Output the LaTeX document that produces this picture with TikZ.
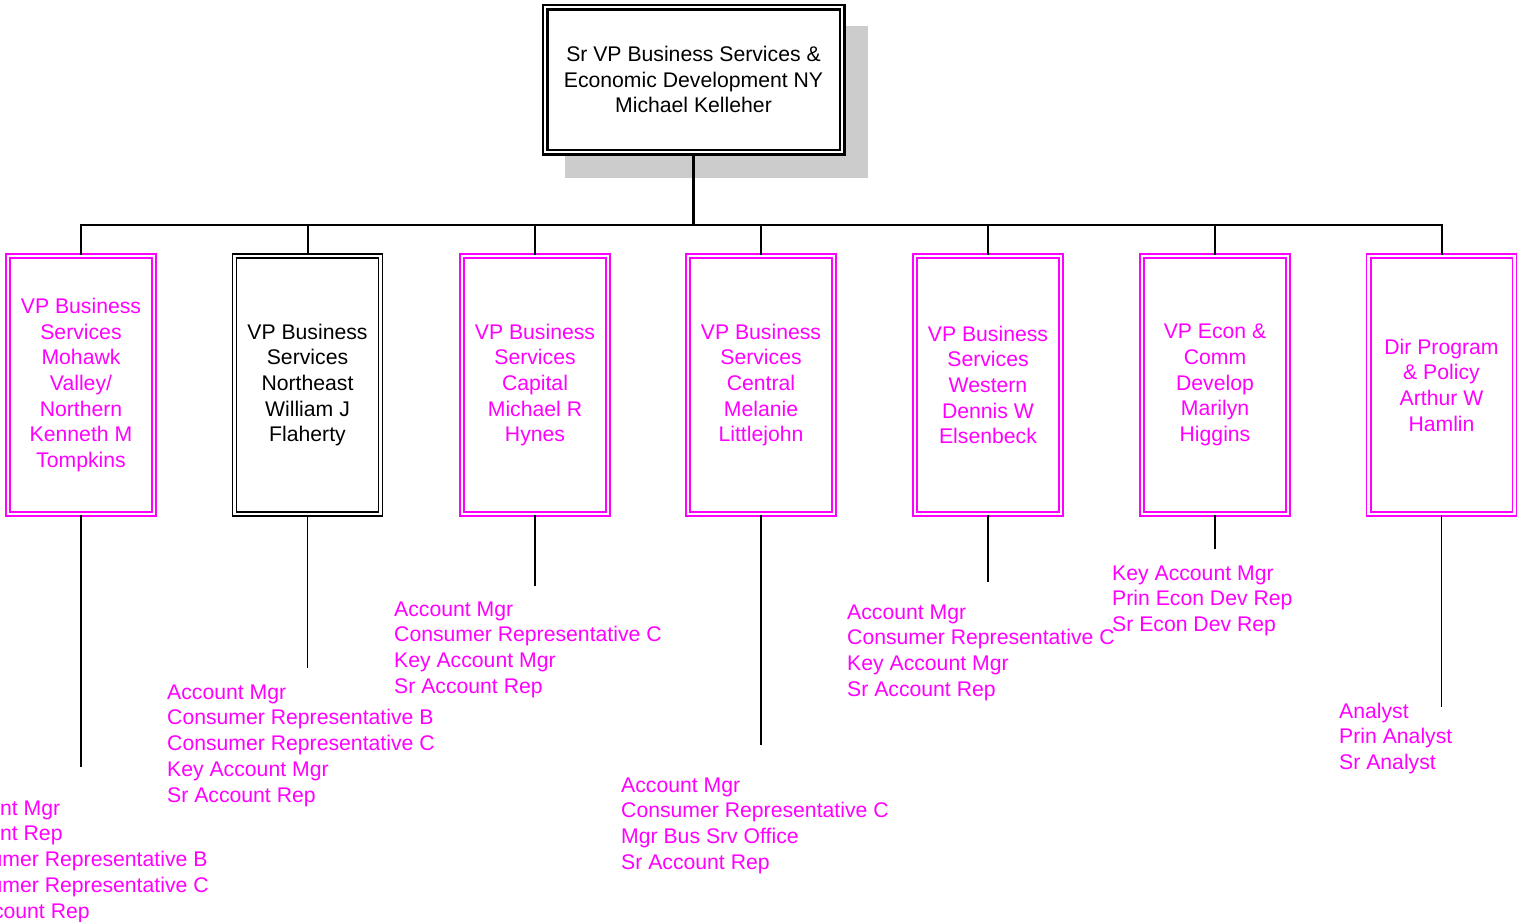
\documentclass[tikz,border=0pt]{standalone}
\usepackage{fontspec}
\setmainfont{Liberation Sans}
\definecolor{mag}{RGB}{255,0,255}
\definecolor{shadow}{RGB}{204,204,204}
\newcommand{\orgfont}{\fontsize{21.2}{25.7}\selectfont}
\begin{document}
\begin{tikzpicture}[x=1pt,y=-1pt,
  box/.style={draw=mag, double=white, double distance=2.2pt, line width=1.9pt,
    minimum width=146pt, minimum height=258pt, inner sep=0pt, align=center,
    text=mag, font=\orgfont},
  blackbox/.style={box, draw=black, text=black, line width=1.8pt},
  topbox/.style={draw=black, double=white, double distance=2.6pt, line width=2.2pt,
    fill=white, minimum width=297pt, minimum height=145pt, inner sep=0pt,
    align=center, font=\orgfont},
  list/.style={anchor=north west, inner sep=0pt, align=left, text=mag, font=\orgfont},
  conn/.style={draw=black, line width=1.6pt}
]
\useasboundingbox (0,0) rectangle (1517,921);
\fill[shadow] (565,26) rectangle (868,178);
\node[topbox] (top) at (693.5,79.5) {Sr VP Business Services \&\\Economic Development NY\\Michael Kelleher};

\node[box] (b1) at (81,385) {VP Business\\Services\\Mohawk\\Valley/\\Northern\\Kenneth M\\Tompkins};
\node[blackbox] (b2) at (307.5,385) {VP Business\\Services\\Northeast\\William J\\Flaherty};
\node[box] (b3) at (535,385) {VP Business\\Services\\Capital\\Michael R\\Hynes};
\node[box] (b4) at (761,385) {VP Business\\Services\\Central\\Melanie\\Littlejohn};
\node[box] (b5) at (988,385) {VP Business\\Services\\Western\\Dennis W\\Elsenbeck};
\node[box] (b6) at (1215,385) {VP Econ \&\\Comm\\Develop\\Marilyn\\Higgins};
\node[box] (b7) at (1441.5,385) {Dir Program\\\& Policy\\Arthur W\\Hamlin};

\coordinate (bus) at (693.5,225);
\draw[line width=3pt] (top.south) -- (bus);
\foreach \i in {1,...,7}{
  \draw[line width=2pt] (bus) -| (b\i.north);
}

\coordinate (e1) at (81,767);
\coordinate (e2) at (307.5,668);
\coordinate (e3) at (535,586);
\coordinate (e4) at (761,745);
\coordinate (e5) at (988,582);
\coordinate (e6) at (1215,549);
\coordinate (e7) at (1441.5,707);
\foreach \i in {1,...,7}{
  \draw[conn] (b\i.south) -- (e\i);
}

\node[list] (l1) at (-59,800.5) {Account Mgr\\Account Rep\\Consumer Representative B\\Consumer Representative C\\Sr Account Rep};
\node[list] (l2) at (167,684.5) {Account Mgr\\Consumer Representative B\\Consumer Representative C\\Key Account Mgr\\Sr Account Rep};
\node[list] (l3) at (394,601.5) {Account Mgr\\Consumer Representative C\\Key Account Mgr\\Sr Account Rep};
\node[list] (l4) at (621,777.5) {Account Mgr\\Consumer Representative C\\Mgr Bus Srv Office\\Sr Account Rep};
\node[list] (l5) at (847,604.5) {Account Mgr\\Consumer Representative C\\Key Account Mgr\\Sr Account Rep};
\node[list] (l6) at (1112,565.5) {Key Account Mgr\\Prin Econ Dev Rep\\Sr Econ Dev Rep};
\node[list] (l7) at (1339,702.5) {Analyst\\Prin Analyst\\Sr Analyst};
\end{tikzpicture}
\end{document}
